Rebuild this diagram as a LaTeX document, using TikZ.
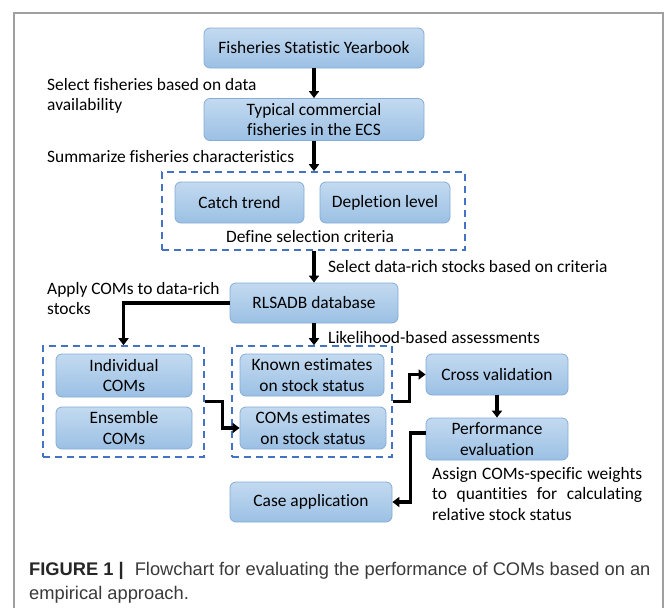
\documentclass[tikz,border=0pt]{standalone}
\usepackage{fontspec}
\setmainfont[Ligatures=NoCommon]{Carlito}
\newfontfamily\capfont{Liberation Sans}
\usetikzlibrary{arrows.meta}
\definecolor{boxtop}{HTML}{C3DAF0}
\definecolor{boxbot}{HTML}{9BC0E4}
\definecolor{boxedge}{HTML}{84ACD8}
\definecolor{dashblue}{HTML}{4472C4}
\definecolor{framegray}{HTML}{A0A0A0}
\definecolor{capgray}{HTML}{3A3A3A}
\tikzset{
  flowbox/.style={draw=boxedge, line width=0.8pt, rounded corners=6pt,
    top color=boxtop, bottom color=boxbot, align=center,
    font=\fontsize{17.4}{20.5}\selectfont, inner sep=1pt},
  groupbox/.style={draw=dashblue, line width=1.6pt, dash pattern=on 7pt off 5pt},
  flowarrow/.style={line width=3.2pt, -{Triangle[length=7pt,width=10pt]}},
  sidetext/.style={font=\fontsize{17.4}{20.5}\selectfont, align=left, inner sep=0pt},
}
\begin{document}
\begin{tikzpicture}[x=1pt,y=-1pt]
\useasboundingbox (0,0) rectangle (665,608);
\fill[white] (0,0) rectangle (665,608);
\draw[framegray, line width=1.5pt] (14,608) -- (14,13) -- (663,13) -- (663,608);

% boxes
\node[flowbox, minimum width=220pt, minimum height=40pt] (fsy) at (314,48) {Fisheries Statistic Yearbook};
\node[flowbox, minimum width=220pt, minimum height=42pt] (tcf) at (314,119.5) {Typical commercial\\fisheries in the ECS};
\node[groupbox, minimum width=303pt, minimum height=78pt] (g1) at (313.5,211) {};
\node[flowbox, minimum width=129pt, minimum height=41pt] (catch) at (239.5,202.5) {Catch trend};
\node[flowbox, minimum width=130pt, minimum height=41pt] (depl) at (385,202.5) {Depletion level};
\node[sidetext] (crit) at (310,237) {Define selection criteria};
\node[flowbox, minimum width=168pt, minimum height=40pt] (rls) at (314,303) {RLSADB database};
\node[groupbox, minimum width=161pt, minimum height=111pt] (g2) at (123.5,401.5) {};
\node[flowbox, minimum width=136pt, minimum height=43pt] (ind) at (124,375.5) {Individual\\COMs};
\node[flowbox, minimum width=136pt, minimum height=42pt] (ens) at (124,428) {Ensemble\\COMs};
\node[groupbox, minimum width=160pt, minimum height=111pt] (g3) at (312,401.5) {};
\node[flowbox, minimum width=144pt, minimum height=42pt] (known) at (312,375) {Known estimates\\on stock status};
\node[flowbox, minimum width=146pt, minimum height=42pt] (comse) at (313,428) {COMs estimates\\on stock status};
\node[flowbox, minimum width=142pt, minimum height=41pt] (cv) at (497,374.5) {Cross validation};
\node[flowbox, minimum width=142pt, minimum height=42pt] (pe) at (497,439) {Performance\\evaluation};
\node[flowbox, minimum width=162pt, minimum height=40pt] (case) at (311,502) {Case application};

% side texts
\node[sidetext, anchor=west] (t1) at (47,96) {Select fisheries based on data\\availability};
\node[sidetext, anchor=west] (t2) at (47,157) {Summarize fisheries characteristics};
\node[sidetext, anchor=west] (t3) at (328,267) {Select data-rich stocks based on criteria};
\node[sidetext, anchor=west] (t4) at (47,298.5) {Apply COMs to data-rich\\stocks};
\node[sidetext, anchor=west] (t5) at (328,338) {Likelihood-based assessments};
\node[sidetext, anchor=west, text width=210pt, align=justify] (t6) at (432,494)
  {Assign COMs-specific weights to quantities for calculating relative stock status};

% connectors
\draw[flowarrow] (fsy.south) -- (tcf.north);
\draw[flowarrow] (tcf.south) -- (tcf.south |- g1.north);
\draw[flowarrow] (g1.south -| rls.north) -- (rls.north);
\draw[flowarrow] (rls.west) -| (g2.north);
\draw[flowarrow] (rls.south) -- (rls.south |- g3.north);
\draw[flowarrow] (g2.east) -- ++(18,0) |- (comse.west);
\draw[flowarrow] (g3.east) -- ++(17,0) |- (cv.west);
\draw[flowarrow] (cv.south) -- (pe.north);
\draw[flowarrow] ([yshift=6pt]pe.west) -- ++(-15,0) |- (case.east);

% caption
\node[anchor=west, inner sep=0pt, font=\capfont\fontsize{18.3}{22}\selectfont, text=capgray] (cap1) at (29,571)
  {\textbf{\color{black!85}FIGURE 1 |}\hspace{0.6em}Flowchart for evaluating the performance of COMs based on an};
\node[anchor=west, inner sep=0pt, font=\capfont\fontsize{18.3}{22}\selectfont, text=capgray] (cap2) at (29,595)
  {empirical approach.};
\end{tikzpicture}
\end{document}
